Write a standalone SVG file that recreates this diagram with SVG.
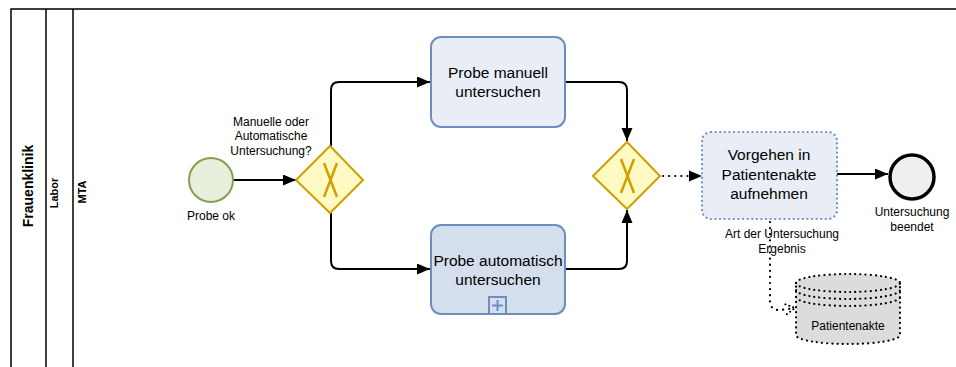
<svg xmlns="http://www.w3.org/2000/svg" width="956" height="367" viewBox="0 0 956 367">
<style>
text{font-family:"Liberation Sans",Arial,sans-serif;fill:#000}
.lane{stroke:#000;stroke-width:1.5;fill:none}
.flow{stroke:#000;stroke-width:2;fill:none}
.task{fill:#e9edf5;stroke:#6c8ebf;stroke-width:2}
.gw{fill:#fff9c4;stroke:#d0a000;stroke-width:2}
.gwx{stroke:#d0a000;stroke-width:2.5;fill:none}
.t15{font-size:15.5px;text-anchor:middle}
.t12{font-size:12px;text-anchor:middle}
.dot{stroke:#000;stroke-width:2.2;stroke-dasharray:0.1 6;fill:none;stroke-linecap:round}
</style>
<defs>
<marker id="arr" markerUnits="userSpaceOnUse" markerWidth="14" markerHeight="12" refX="13" refY="5.5" orient="auto">
<path d="M0,0 L13,5.5 L0,11 z" fill="#000"/>
</marker>
<marker id="open" markerUnits="userSpaceOnUse" markerWidth="12" markerHeight="12" refX="10" refY="6" orient="auto">
<path d="M1,1 L10,6 L1,11" fill="none" stroke="#000" stroke-width="2" stroke-dasharray="0.1 4" stroke-linecap="round"/>
</marker>
</defs>
<rect width="956" height="367" fill="#fff"/>
<g id="pool">
<path class="lane" d="M11,367 L11,9 L956,9"/>
<line class="lane" x1="46" y1="9" x2="46" y2="367"/>
<line class="lane" x1="73" y1="9" x2="73" y2="367"/>
<text transform="translate(33,186) rotate(-90)" font-size="14" font-weight="bold" text-anchor="middle">Frauenklinik</text>
<text transform="translate(58,193) rotate(-90)" font-size="11" font-weight="bold" text-anchor="middle">Labor</text>
<text transform="translate(86,192) rotate(-90)" font-size="11" font-weight="bold" text-anchor="middle">MTA</text>
</g>
<g id="connectors">
<path class="flow" d="M233,180 L296,180" marker-end="url(#arr)"/>
<path class="flow" d="M331,146 L331,90 Q331,82 339,82 L430,82" marker-end="url(#arr)"/>
<path class="flow" d="M331,213 L331,261 Q331,269 339,269 L430,269" marker-end="url(#arr)"/>
<path class="flow" d="M565,82 L619,82 Q627,82 627,90 L627,141" marker-end="url(#arr)"/>
<path class="flow" d="M565,269 L619,269 Q627,269 627,261 L627,210" marker-end="url(#arr)"/>
<path class="dot" d="M663,176 L690,176"/>
<path d="M689,170.5 L702,176 L689,181.5 z" fill="#000"/>
<path class="flow" d="M837,174 L888,174" marker-end="url(#arr)"/>
<path class="dot" d="M770,222 L770,302 Q771,311 781,310 L795,308" marker-end="url(#open)"/>
</g>
<g id="start">
<circle cx="211" cy="180" r="22" fill="#e8efdc" stroke="#82a050" stroke-width="2"/>
<text class="t12" x="211" y="220">Probe ok</text>
</g>
<g id="gateway1">
<path class="gw" d="M330,146 L363,180 L330,213 L296,180 z"/>
<path class="gwx" d="M324,163 L337,197 M337,163 L324,197"/>
<text class="t12" x="271" y="126">Manuelle oder</text>
<text class="t12" x="271" y="140">Automatische</text>
<text class="t12" x="271" y="155">Untersuchung?</text>
</g>
<g id="task1">
<rect class="task" x="431" y="37" width="134" height="90" rx="10"/>
<text class="t15" x="498" y="78">Probe manuell</text>
<text class="t15" x="498" y="97">untersuchen</text>
</g>
<g id="task2">
<rect class="task" x="431" y="225" width="134" height="89" rx="10" style="fill:#d5deed"/>
<text class="t15" x="498" y="266">Probe automatisch</text>
<text class="t15" x="498" y="285">untersuchen</text>
<rect x="489" y="297" width="17" height="17" fill="none" stroke="#6c8ebf" stroke-width="2"/>
<path d="M497.5,300 L497.5,311 M492,305.5 L503,305.5" stroke="#6c8ebf" stroke-width="2"/>
</g>
<g id="gateway2">
<path class="gw" d="M627,142 L660,176 L627,209 L593,176 z"/>
<path class="gwx" d="M621,159 L634,193 M634,159 L621,193"/>
</g>
<g id="task3">
<rect x="702" y="132" width="135" height="87" rx="9" fill="#e9edf5" stroke="#6c8ebf" stroke-width="2.2" stroke-dasharray="0.1 4.5" stroke-linecap="round"/>
<text class="t15" x="769" y="160">Vorgehen in</text>
<text class="t15" x="769" y="180">Patientenakte</text>
<text class="t15" x="769" y="199">aufnehmen</text>
<text class="t12" x="782" y="238">Art der Untersuchung</text>
<text class="t12" x="782" y="253">Ergebnis</text>
</g>
<g id="end">
<circle cx="912" cy="177" r="22" fill="#efefef" stroke="#000" stroke-width="3.5"/>
<text class="t12" x="912" y="216">Untersuchung</text>
<text class="t12" x="912" y="231">beendet</text>
</g>
<g id="datastore">
<path d="M796,283 A52,9 0 0 1 900,283 L900,335 A52,9 0 0 1 796,335 z" fill="#dcdcdc" stroke="#000" stroke-width="2.2" stroke-dasharray="0.1 5" stroke-linecap="round"/>
<path class="dot" style="stroke-dasharray:0.1 5" d="M796,283 A52,9 0 0 0 900,283 M796,290 A52,9 0 0 0 900,290 M796,297 A52,9 0 0 0 900,297"/>
<text class="t12" x="848" y="330">Patientenakte</text>
</g>
</svg>
